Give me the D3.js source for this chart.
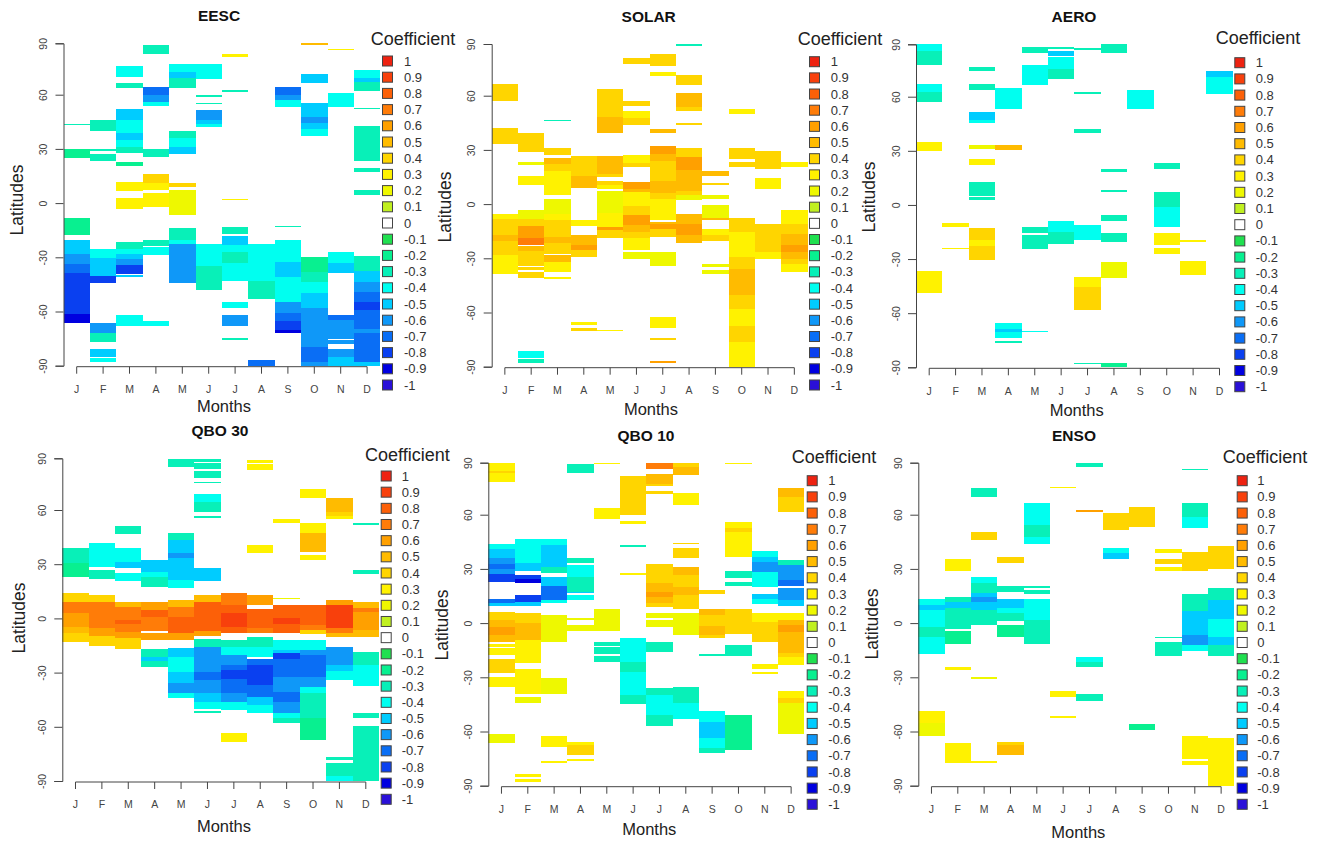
<!DOCTYPE html>
<html>
<head>
    <title>Regression coefficients</title>
    <meta charset="UTF-8">
    <style>
        body { margin: 0; background: #fff; }
        text { font-family: "Liberation Sans", Arial, sans-serif; }
        .axis path, .axis line { stroke: #444; fill: none; }
        .axis text { fill: #444; font-size: 10.5px; }
    </style>
</head>
<body>
<script src="https://cdn.jsdelivr.net/npm/d3@7"></script>
<script>

var monthLabels = ["J", "F", "M", "A", "M", "J", "J", "A", "S", "O", "N", "D"];
var latTicks = [-90, -60, -30, 0, 30, 60, 90];
var coefLevels = [1, .9, .8, .7, .6, .5, .4, .3, .2, .1, 0, -.1, -.2, -.3, -.4, -.5, -.6, -.7, -.8, -.9, -1];
var coefColors = ["#ee2211", "#f8400c", "#fc6008", "#ff7c08", "#ffa000", "#ffbb00", "#ffd500", "#fff200", "#eef800", "#c0f020", "#ffffff",
                  "#20e050", "#08f090", "#08f0b8", "#00fff0", "#00ccff", "#0f98f8", "#0a6ef5", "#0a40f0", "#0000e0", "#2a10d8"];

//Each cell: month index, upper latitude, lower latitude, coefficient.
var eescCells = [
    [0,44,43,-.3],[0,30,25,-.2],[0,-8.5,-17.5,-.2],[0,-20.5,-28,-.5],[0,-28,-33.5,-.6],[0,-33.5,-38.5,-.7],[0,-38.5,-61.5,-.8],[0,-61.5,-66.5,-.9],
    [1,46,40,-.3],[1,30,29,-.3],[1,27,23.5,-.3],[1,-25.5,-30.5,-.4],[1,-30.5,-34,-.5],[1,-34,-40.5,-.5],[1,-40.5,-44,-.8],[1,-66.5,-72,-.6],[1,-72,-77,-.3],[1,-81,-85,-.5],[1,-86,-88,-.4],
    [2,77,70.5,-.4],[2,67,64,-.3],[2,52,46,-.5],[2,46,38.6,-.4],[2,38.6,35,-.5],[2,35,31,-.4],[2,31,28,-.3],[2,22.5,20.5,-.2],[2,11.8,6.6,.3],[2,3,-3,.3],[2,-21.5,-25.5,-.3],[2,-25.5,-28,-.4],[2,-28,-31,-.5],[2,-31,-34,-.6],[2,-34,-39.5,-.8],[2,-40,-41,-.5],[2,-62,-68,-.4],
    [3,89,84,-.3],[3,64.5,60,-.7],[3,60,56,-.6],[3,56,54,-.4],[3,30,25.5,-.3],[3,16,11,.4],[3,11,7,.3],[3,5.7,-2.4,.3],[3,-20.5,-23.5,-.3],[3,-24.5,-29,-.4],[3,-65.5,-68,-.4],
    [4,78,73,-.4],[4,73,69.5,-.5],[4,69.5,63.7,-.3],[4,40,36,-.3],[4,36,31,-.4],[4,31,27,-.5],[4,11,9,.4],[4,7,-6.6,.2],[4,-14,-20.5,-.3],[4,-20.5,-22.5,-.4],[4,-22.5,-44,-.6],
    [5,78,69,-.4],[5,60,58.8,-.3],[5,55.5,54.8,-.3],[5,51.5,46,-.6],[5,46,43.7,-.5],[5,43.7,42,-.4],[5,-22.5,-35,-.4],[5,-35,-48,-.3],
    [6,84,82,.3],[6,62.5,61.8,-.3],[6,2.4,1.6,.3],[6,-13,-17,-.3],[6,-18,-23,-.5],[6,-23,-27,-.4],[6,-27,-33,-.3],[6,-33,-43,-.4],[6,-55,-58,-.4],[6,-62,-68,-.6],[6,-74.5,-75.5,-.3],
    [7,-22.5,-43,-.4],[7,-43,-53,-.3],[7,-87,-90,-.7],
    [8,64.5,60,-.7],[8,60,57,-.6],[8,57,53,-.4],[8,-12.5,-13.4,-.3],[8,-20.5,-32.5,-.4],[8,-32.5,-41,-.5],[8,-41,-54.5,-.4],[8,-54.5,-61,-.6],[8,-61,-65.5,-.7],[8,-65.5,-70,-.8],[8,-70,-72,-.9],
    [9,90,89,.5],[9,72,67,-.5],[9,55.5,47.5,-.5],[9,47.5,44.5,-.6],[9,44.5,41,-.5],[9,41,37,-.4],[9,-30,-38,-.2],[9,-38,-43.5,-.3],[9,-43.5,-50,-.4],[9,-50,-58,-.5],[9,-58,-79.5,-.6],[9,-79.5,-88,-.7],[9,-88,-90,-.6],
    [10,86.5,86,.3],[10,61,53,-.4],[10,-27,-33,-.4],[10,-33,-38.5,-.5],[10,-62,-64.5,-.7],[10,-64.5,-75,-.6],[10,-76,-78,-.6],[10,-80.5,-85,-.6],[10,-85,-90,-.5],
    [11,74.5,69.5,-.4],[11,69.5,67.6,-.5],[11,67.6,62,-.3],[11,52.5,52,-.3],[11,42.6,23.5,-.3],[11,19.5,17,-.3],[11,7.5,4.6,-.3],[11,-29.5,-37.5,-.3],[11,-37.5,-43.5,-.5],[11,-43.5,-49,-.6],[11,-49,-54.5,-.7],[11,-54.5,-59,-.8],[11,-59,-69.5,-.7],[11,-69.5,-72,-.6],[11,-72,-88,-.7],[11,-88,-90,-.5]
];

var solarCells = [
    [0,67,57,.4],[0,42,33,.4],[0,-5.3,-8,.3],[0,-8,-17.3,.4],[0,-17.3,-20.4,.5],[0,-20.4,-28.4,.4],[0,-28.4,-38.5,.3],
    [1,39.4,28.7,.4],[1,23.4,21.5,.2],[1,15.7,10.7,.3],[1,-3.5,-8,.2],[1,-8,-12.3,.4],[1,-12.3,-19,.6],[1,-19,-22.5,.7],[1,-23.4,-26,.5],[1,-26,-34,.4],[1,-35,-36.6,.4],[1,-37.6,-41,.4],[1,-81.5,-85,-.4],[1,-86,-88.2,-.3],
    [2,46.3,45.8,-.3],[2,31.3,27.4,.4],[2,25.4,22.3,.5],[2,22.3,18.2,.4],[2,18.2,5.3,.3],[2,3,-5.7,.2],[2,-5.7,-9,.3],[2,-9,-18.2,.4],[2,-18.2,-21.5,.5],[2,-21.5,-27.4,.4],[2,-28.4,-32,.5],[2,-32,-37.6,.3],[2,-40.3,-41.2,.3],
    [3,26.5,15.8,.4],[3,15.8,8.8,.5],[3,-9,-12,.3],[3,-17.3,-22.8,.5],[3,-22.8,-25.6,.6],[3,-25.6,-29.3,.4],[3,-65.4,-66.7,.3],[3,-68.5,-70.3,.4],
    [4,63.9,48.4,.4],[4,48.4,39.4,.5],[4,26.5,16.8,.5],[4,16.8,15,.4],[4,13,10.3,.4],[4,10.3,8.5,.3],[4,7.2,-5,.2],[4,-5,-12.7,.3],[4,-12.7,-14.5,.6],[4,-14.5,-19,.4],[4,-69.5,-70,.3],
    [5,81.6,78.5,.4],[5,57,54.3,.4],[5,51.5,47.5,.3],[5,47.5,44,.4],[5,27.4,22.8,.3],[5,22.8,20.4,.4],[5,12.5,8.5,.6],[5,8.5,6.6,.5],[5,6.6,-1.3,.3],[5,-1.3,-6.3,.4],[5,-6.3,-11.8,.6],[5,-11.8,-15.5,.5],[5,-15.5,-19,.4],[5,-19,-25.6,.3],[5,-26.5,-30.2,.2],
    [6,84,77,.4],[6,73.8,71.5,.3],[6,41.6,39.4,.5],[6,32.4,27.8,.6],[6,27.8,24.1,.5],[6,24.1,13,.4],[6,13,6,.5],[6,6,3,.4],[6,3,-9,.3],[6,-10,-11,.5],[6,-11,-13.6,.6],[6,-13.6,-18.2,.4],[6,-26.5,-34.3,.2],[6,-62.4,-68.7,.3],[6,-74,-75.3,.4],[6,-87,-88.2,.6],
    [7,90,89,-.3],[7,72,66,.4],[7,61.4,54,.5],[7,54,51.5,.4],[7,44.8,43.7,.4],[7,31,26,.4],[7,26,18.6,.6],[7,18.6,7.5,.5],[7,7.5,4.8,.4],[7,4.8,2,.2],[7,-5.7,-11.2,.5],[7,-11.2,-17.3,.6],[7,-17.3,-21.5,.5],
    [8,18.2,15.5,.5],[8,11.8,10.3,.4],[8,5.3,3,.2],[8,-.5,-7.5,.2],[8,-7.5,-8.6,.5],[8,-13.6,-17.3,.3],[8,-17.3,-20.4,.4],[8,-33.3,-34.8,.2],[8,-36.6,-38.9,.2],
    [9,52.4,49.8,.3],[9,31,25,.4],[9,23.2,20.4,.4],[9,-7.5,-15.5,.4],[9,-15.5,-29.3,.3],[9,-29.3,-35.7,.4],[9,-35.7,-50.5,.5],[9,-50.5,-57.8,.4],[9,-57.8,-67.6,.3],[9,-67.6,-76.2,.4],[9,-76.2,-90,.3],
    [10,29.6,19.5,.4],[10,14.5,8.5,.3],[10,-10.9,-26.5,.4],[10,-26.5,-30.6,.3],
    [11,23.4,20.4,.3],[11,-3.5,-10.9,.3],[11,-10.9,-16.4,.4],[11,-16.4,-22.8,.5],[11,-22.8,-26.5,.6],[11,-26.5,-30.2,.5],[11,-30.2,-33.3,.4],[11,-33.3,-37.6,.3]
];

var aeroCells = [
    [0,90,86,-.4],[0,86,78,-.3],[0,67,62.5,-.4],[0,62.5,57,-.3],[0,35,29.7,.3],[0,-36.6,-48.6,.3],
    [1,-10,-12.3,.3],[1,-23.8,-24.7,.3],
    [2,77,75,-.3],[2,67,64,-.3],[2,51.3,47,-.5],[2,47,45.5,-.4],[2,33,31,.2],[2,25.4,22,.3],[2,12.5,5,-.3],[2,4.2,3,-.3],[2,-12.7,-19.3,.4],[2,-19.3,-22.5,.3],[2,-22.5,-30.4,.4],
    [3,64.8,53.3,-.4],[3,33,30.5,.5],[3,-65.4,-68.5,-.4],[3,-68.5,-70.4,-.5],[3,-70.4,-73.5,-.4],[3,-75.3,-76.4,-.3],
    [4,88.7,84.9,-.3],[4,78,66.7,-.4],[4,-12,-15.5,-.3],[4,-16.4,-24.7,-.3],[4,-69.8,-70.4,-.4],
    [5,88.7,87.4,-.3],[5,86.4,83.5,-.5],[5,82.6,76,-.4],[5,76,70,-.3],[5,-9,-15,-.4],[5,-15,-21.5,-.3],
    [6,87.7,86.8,-.3],[6,62.7,61.7,-.3],[6,42,39.8,-.3],[6,-10.9,-19.3,-.4],[6,-40,-45.6,.3],[6,-45.6,-58.5,.4],[6,-87.5,-88.4,-.3],
    [7,90,85,-.3],[7,20,18.3,-.3],[7,8.3,7.2,-.3],[7,-5.7,-8.7,-.3],[7,-15.6,-20.6,-.3],[7,-31.7,-40.7,.2],[7,-87.5,-90,-.2],
    [8,64,53,-.4],
    [9,23.2,20,-.3],[9,7.4,-1.3,-.3],[9,-1.3,-12,-.4],[9,-15.5,-22,.3],[9,-23.8,-27.4,.3],
    [10,-19.3,-20.3,.3],[10,-30.8,-38.7,.3],
    [11,75,71.5,-.5],[11,71.5,61.5,-.4]
];

var qbo30Cells = [
    [0,38.7,30.4,-.3],[0,30.4,23,-.2],[0,13.8,9.2,.4],[0,9.2,2.8,.7],[0,2.8,-4.6,.6],[0,-4.6,-8.3,.5],[0,-8.3,-13,.4],
    [1,41.5,28.6,-.4],[1,26.8,22,-.3],[1,13,9.2,.4],[1,9.2,1.8,.7],[1,1.8,-5.5,.7],[1,-5.5,-10,.6],[1,-10,-15.3,.4],
    [2,51,46.5,-.3],[2,38.7,31.4,-.4],[2,31.4,27.7,-.5],[2,25.3,20.7,-.4],[2,9.2,6.5,.5],[2,6.5,-1,.7],[2,-1,-3.3,.8],[2,-3.3,-7.4,.7],[2,-7.4,-11,.6],[2,-11,-17.2,.4],
    [3,32.3,25.8,-.5],[3,25.8,23,-.4],[3,23,17.5,-.3],[3,9.2,4.6,.6],[3,4.6,1,.8],[3,1,-6.8,.7],[3,-8.3,-12,.6],[3,-17.2,-21.2,-.3],[3,-21.2,-23.4,-.5],[3,-23.4,-27,-.3],
    [4,89.4,85,-.3],[4,47.5,43.4,-.3],[4,43.4,36,-.5],[4,36,33.2,-.6],[4,33.2,21.2,-.5],[4,21.2,17,-.4],[4,10,6.5,.5],[4,6.5,1,.7],[4,1,-8.3,.8],[4,-8.3,-12,.6],[4,-16.6,-21.6,-.5],[4,-21.6,-29.5,-.4],[4,-29.5,-36,-.5],[4,-36,-41.5,-.6],[4,-41.5,-44,-.4],
    [5,89.4,88,-.3],[5,87,84,-.3],[5,82.6,78.4,-.3],[5,76.4,75.7,-.3],[5,69.3,64.8,-.4],[5,64.8,59,-.3],[5,56.6,55.7,-.3],[5,27.7,20.7,-.5],[5,13,9.2,.5],[5,9.2,-6.8,.8],[5,-6.8,-9.8,.6],[5,-11.6,-15.7,-.3],[5,-15.7,-29.5,-.6],[5,-29.5,-34.1,-.7],[5,-34.1,-41.5,-.6],[5,-41.5,-46,-.5],[5,-46,-50.4,-.4],[5,-51,-52.6,-.3],
    [6,13.8,7.4,.7],[6,7.4,2.8,.8],[6,2.8,-5,.9],[6,-5,-8.3,.8],[6,-12,-15.7,-.3],[6,-15.7,-20.3,-.4],[6,-20.3,-25.8,-.6],[6,-25.8,-28.6,-.7],[6,-28.6,-33.8,-.8],[6,-33.8,-41.5,-.7],[6,-41.5,-46,-.6],[6,-46,-50.7,-.4],[6,-63.3,-68.6,.3],
    [7,88.9,87.3,.3],[7,86.6,83.5,.3],[7,40.6,36,.3],[7,13,7.4,.6],[7,5,-5.5,.8],[7,-5.5,-8.3,.7],[7,-10.5,-15.7,-.3],[7,-15.7,-21.6,-.4],[7,-22.5,-25.8,-.7],[7,-25.8,-37,-.8],[7,-37,-43.4,-.7],[7,-43.4,-48,-.5],[7,-48,-52.6,-.4],
    [8,55,52.6,.3],[8,11.4,10.5,.2],[8,7.4,0,.8],[8,0,-3,.9],[8,-3,-8.3,.8],[8,-12,-17.5,-.4],[8,-17.5,-19.4,-.5],[8,-19.4,-22.7,-.8],[8,-22.7,-32.3,-.7],[8,-32.3,-40.6,-.6],[8,-40.6,-46.5,-.7],[8,-46.5,-52.6,-.6],[8,-52.6,-55.4,-.4],[8,-55.4,-58.1,-.3],
    [9,72,67,.3],[9,52.6,47,.3],[9,47,37,.5],[9,35,32.3,.3],[9,7.4,-3.7,.8],[9,-3.7,-6.5,.7],[9,-6.5,-8.9,.4],[9,-12,-17.5,-.4],[9,-17.5,-20.3,-.6],[9,-20.3,-32.3,-.7],[9,-32.3,-37.8,-.6],[9,-37.8,-41.5,-.4],[9,-41.5,-55.4,-.3],[9,-55.4,-67.3,-.2],
    [10,66.8,59,.5],[10,59,56.9,.4],[10,56.8,54.8,.3],[10,10,7.4,.6],[10,7.4,-5.5,.9],[10,-5.5,-8.3,.7],[10,-8.3,-10.5,.5],[10,-15.7,-25.8,-.6],[10,-25.8,-29,-.5],[10,-29,-34.1,-.4],[10,-76.6,-78.4,-.3],[10,-80.3,-87.3,-.3],[10,-87.3,-90,-.4],
    [11,52.6,51.5,-.3],[11,26.8,24.5,-.3],[11,9.2,5.5,.5],[11,5.5,3.7,.7],[11,3.7,-6.5,.6],[11,-6.5,-10.5,.5],[11,-18.5,-25.8,-.3],[11,-25.8,-37.3,-.4],[11,-52.6,-55,-.3],[11,-59.4,-90,-.3]
];

var qbo10Cells = [
    [0,90,85,.3],[0,85,84,.4],[0,84,79,.3],[0,43.7,40.8,-.4],[0,40.8,35.8,-.5],[0,35.8,32.7,-.6],[0,32.7,30,-.7],[0,30,27,-.6],[0,27,22.5,-.8],[0,13.6,11.3,-.7],[0,11.3,9.6,-.5],[0,6.3,1.7,.4],[0,1.7,-2.4,.5],[0,-2.4,-6.6,.6],[0,-6.6,-10.3,.5],[0,-11.3,-13.1,.3],[0,-14,-17.7,.3],[0,-19.6,-27.5,.4],[0,-30,-35.2,.3],[0,-61.4,-66.2,.2],
    [1,46.3,33,-.4],[1,33,29,-.5],[1,26.6,24.5,-.8],[1,24.5,22,-.9],[1,15.5,11.8,-.8],[1,11.8,9.6,-.5],[1,5.4,-.2,.4],[1,-.2,-9.4,.5],[1,-9.4,-22.3,.3],[1,-25.6,-39.3,.3],[1,-41,-44,.2],[1,-83.8,-85.4,.3],[1,-86.3,-88.2,.3],
    [2,46.3,43.2,-.4],[2,43.2,31,-.5],[2,31,27.5,-.3],[2,25.6,20.5,-.5],[2,20.5,12.7,-.7],[2,12.7,10.9,-.4],[2,4.4,-10.3,.2],[2,-30.3,-39.5,.2],[2,-62.5,-68.4,.3],[2,-76.2,-77.3,.3],
    [3,89,84,-.3],[3,36.3,33,-.3],[3,32,25.6,-.4],[3,25.6,17.3,-.3],[3,17.3,16.4,-.5],[3,15.5,12.7,-.4],[3,2.6,1.7,.2],[3,-1.1,-4.2,.2],[3,-65.7,-67.5,.3],[3,-67.5,-73,.4],[3,-75.3,-76.2,.3],
    [4,90,89,.3],[4,63.7,57.7,.3],[4,7.6,-4.2,.2],[4,-10.5,-12.5,-.3],[4,-13.5,-17.2,-.3],[4,-18.3,-21.4,-.3],
    [5,82.6,59.6,.4],[5,56.5,54.8,.3],[5,43.5,41.9,-.3],[5,27.5,26.8,.3],[5,-8.5,-21.4,-.4],[5,-21.4,-27,-.3],[5,-27,-39.9,-.4],[5,-39.9,-45,-.3],
    [6,90,86.6,.7],[6,83.2,78,.5],[6,78,76.4,.4],[6,73.4,72,.4],[6,32.5,22,.4],[6,22,17.3,.5],[6,17.3,14.6,.6],[6,14.6,11.3,.5],[6,11.3,8.7,.4],[6,5.4,2.6,.2],[6,1.7,-2.4,.2],[6,-10.7,-16.2,-.3],[6,-35.8,-39.9,-.3],[6,-39.9,-51,-.4],[6,-51,-57,-.3],
    [7,90,87.5,.4],[7,87.5,83,.5],[7,72.5,65.7,.3],[7,44.6,43.7,.4],[7,41.5,35.8,.4],[7,31.2,26.6,.5],[7,26.6,20,.4],[7,20,15.5,.5],[7,15.5,7.6,.4],[7,5.4,-6.6,.2],[7,-35.2,-44.5,-.3],[7,-44.5,-53.3,-.4],
    [8,18.3,15.9,.4],[8,7.6,4.4,.5],[8,4.4,-1.7,.4],[8,-1.7,-6.6,.5],[8,-6.6,-8.5,.4],[8,-17.3,-18.3,-.3],[8,-48.7,-54.6,-.4],[8,-54.6,-63.5,-.5],[8,-63.5,-69.4,-.4],[8,-69.4,-72.1,-.3],
    [9,90,89,.3],[9,55.7,52.5,.3],[9,52.5,50.6,.4],[9,50.6,36.7,.3],[9,28.8,24.7,-.3],[9,22.9,20.7,-.3],[9,7.6,-6,.4],[9,-12.2,-18.3,-.3],[9,-50.6,-70.3,-.2],
    [10,39.9,36.7,-.4],[10,36.7,34,-.5],[10,34,28.4,-.6],[10,28.4,20,-.4],[10,16,13.1,-.5],[10,13.1,10.5,-.4],[10,5.4,.7,.3],[10,.7,-10.3,.4],[10,-22.7,-25.6,.3],[10,-27,-28.2,.3],
    [11,75.4,70.5,.5],[11,70.5,61.7,.4],[11,35.2,32.1,-.3],[11,32.1,23.8,-.6],[11,23.8,20.5,-.7],[11,19.2,12.7,-.6],[11,12.7,9.6,-.5],[11,5.4,1.7,.3],[11,1.7,-1.1,.5],[11,-1.1,-4.8,.6],[11,-4.8,-16.8,.5],[11,-16.8,-19,.4],[11,-19,-23.2,.3],[11,-37.6,-41.7,.3],[11,-41.7,-44,.4],[11,-44,-61.4,.2]
];

var ensoCells = [
    [0,13.6,10,-.4],[0,10,7.2,-.5],[0,7.2,-2,-.4],[0,-2,-7.6,-.3],[0,-7.6,-17.2,-.4],[0,-48.5,-55.5,.3],[0,-55.5,-62.4,.2],
    [1,35.4,29,.3],[1,14.6,11.8,-.3],[1,11.8,8.1,-.5],[1,8.1,-3.5,-.3],[1,-4.4,-11.3,-.2],[1,-24.5,-26,.3],[1,-66.2,-77.3,.3],
    [2,75.6,70,-.3],[2,50.6,46,.4],[2,25.6,22,-.4],[2,22,16.4,-.3],[2,16.4,14.6,-.5],[2,14.6,11.8,-.6],[2,11.8,7.2,-.5],[2,7.2,-1.1,-.3],[2,-30,-31.2,.2],[2,-76.2,-77.3,.3],
    [3,36.7,33.4,.4],[3,20.5,17.3,-.3],[3,13.1,8.1,-.5],[3,8.1,5.7,-.4],[3,5.7,.9,-.3],[3,-1.1,-7.6,-.2],[3,-65.7,-67.5,.4],[3,-67.5,-73,.5],
    [4,66.8,54.2,-.4],[4,54.2,47.8,-.3],[4,47.8,44,-.4],[4,20.5,19.6,-.3],[4,18.3,15.9,-.3],[4,13.6,1.7,-.4],[4,1.7,-11.3,-.3],
    [5,76,75.4,.3],[5,-37.5,-41,.3],[5,-51.5,-52.4,.3],
    [6,90,87.5,-.3],[6,62.7,61.7,.6],[6,-18.6,-21.4,-.4],[6,-21.4,-24.5,-.3],[6,-39.5,-43.2,-.3],
    [7,61,51.5,.4],[7,41.7,38.6,-.4],[7,38.6,35.4,-.5],
    [8,64.7,53,.4],[8,-56,-59.2,-.2],
    [9,40.8,38.6,.3],[9,35.4,32.5,.4],[9,31.2,29,.3],[9,-7.6,-8.5,-.3],[9,-10.3,-18.3,-.3],
    [10,86.5,86,-.3],[10,66.8,59,-.3],[10,59,52.8,-.4],[10,39.5,29,.4],[10,15.9,6.6,-.3],[10,6.6,-6.6,-.5],[10,-6.6,-12.2,-.6],[10,-12.2,-15.3,-.4],[10,-62.4,-75,.3],[10,-76.2,-78.6,.3],
    [11,42.6,30,.4],[11,19.6,12.7,-.3],[11,12.7,2,-.5],[11,2,-7.6,-.4],[11,-7.6,-12.2,-.5],[11,-12.2,-18.3,-.3],[11,-63.8,-90,.3]
];

var svg = d3.select("body").append("svg")
            .attr("width", 1322)
            .attr("height", 843);

var colorOf = d3.scaleOrdinal().domain(coefLevels).range(coefColors);

//Draws one heat map with its axes and its legend.
function makePanel(title, cells, p) {

    var x = d3.scaleBand().domain(d3.range(monthLabels.length)).range([p.left, p.right]);
    //The image's 90 tick sits a little closer to 60 than the other ticks do to each other.
    var y = d3.scaleLinear().domain([-90, 60, 90]).range([p.bottom, p.lat60, p.top]);

    svg.append("g").selectAll("rect")
       .data(cells)
       .join("rect")
         .attr("x", function(d) { return x(d[0]); })
         .attr("y", function(d) { return y(d[1]); })
         .attr("width", x.bandwidth())
         .attr("height", function(d) { return Math.max(1, y(d[2]) - y(d[1])); })
         .attr("fill", function(d) { return colorOf(d[3]); })
         .attr("shape-rendering", "crispEdges");

    //X axis: like R, the line only runs from the first tick to the last.
    var xAxis = svg.append("g")
        .attr("class", "axis")
        .attr("transform", "translate(0," + (p.bottom + 1) + ")")
        .call(d3.axisBottom(x).tickSizeOuter(0).tickSize(7).tickPadding(12)
                .tickFormat(function(i) { return monthLabels[i]; }));
    var halfBand = x.bandwidth() / 2;
    xAxis.select(".domain").attr("d", "M" + (x(0) + halfBand) + ",0H" + (x(11) + halfBand));

    //Y axis with rotated labels. Plain format so the minus stays a hyphen.
    var yAxis = svg.append("g")
        .attr("class", "axis")
        .attr("transform", "translate(" + p.left + ",0)")
        .call(d3.axisLeft(y).tickValues(latTicks).tickSizeOuter(0).tickSize(8)
                .tickFormat(function(d) { return String(d); }));
    yAxis.selectAll("text")
         .attr("x", 0)
         .attr("dy", "0.35em")
         .attr("text-anchor", "middle")
         .attr("transform", "translate(-20,0) rotate(-90)");

    svg.append("text")
       .attr("x", p.titleX).attr("y", p.titleY)
       .attr("text-anchor", "middle")
       .attr("font-size", 15.5).attr("font-weight", "bold").attr("fill", "#111")
       .text(title);
    svg.append("text")
       .attr("x", p.monthsX).attr("y", p.monthsY)
       .attr("text-anchor", "middle")
       .attr("font-size", 16.5).attr("fill", "#222")
       .text("Months");
    svg.append("text")
       .attr("transform", "translate(" + p.latX + "," + p.latY + ") rotate(-90)")
       .attr("text-anchor", "middle")
       .attr("font-size", 17.5).attr("fill", "#222")
       .text("Latitudes");
    svg.append("text")
       .attr("x", p.coefX).attr("y", p.coefY)
       .attr("text-anchor", "middle")
       .attr("font-size", 18).attr("fill", "#222")
       .text("Coefficient");

    //Legend rows share the same palette as the cells.
    var rowY = d3.scalePoint().domain(coefLevels).range([p.legendTop, p.legendBottom]);
    var rows = svg.append("g").selectAll("g")
        .data(coefLevels)
        .join("g")
          .attr("transform", function(d) { return "translate(" + p.legendX + "," + rowY(d) + ")"; });
    rows.append("rect")
        .attr("x", 0.5).attr("y", -5)
        .attr("width", 10).attr("height", 10)
        .attr("fill", function(d) { return colorOf(d); })
        .attr("stroke", "#444");
    rows.append("text")
        .attr("x", p.legendTextX - p.legendX)
        .attr("dy", "0.35em")
        .attr("font-size", 13).attr("fill", "#333")
        .text(function(d) { return d; });
}

makePanel("EESC", eescCells, {left: 63.5, right: 380.3, top: 43.3, lat60: 94.7, bottom: 365.7,
    titleX: 219, titleY: 20.5, monthsX: 224, monthsY: 412, latX: 23, latY: 200, coefX: 413, coefY: 44.5,
    legendX: 382, legendTop: 61, legendBottom: 385, legendTextX: 404});
makePanel("SOLAR", solarCells, {left: 491.7, right: 807.5, top: 44, lat60: 95.7, bottom: 366.7,
    titleX: 648.7, titleY: 21.5, monthsX: 651, monthsY: 415, latX: 451, latY: 207, coefX: 840, coefY: 44.5,
    legendX: 809, legendTop: 61.7, legendBottom: 385, legendTextX: 830.7});
makePanel("AERO", aeroCells, {left: 916, right: 1232.7, top: 44.3, lat60: 96.7, bottom: 367.3,
    titleX: 1074, titleY: 22, monthsX: 1076.7, monthsY: 416, latX: 875, latY: 197, coefX: 1258, coefY: 43.5,
    legendX: 1234.3, legendTop: 62.7, legendBottom: 386.7, legendTextX: 1255.7});
makePanel("QBO 30", qbo30Cells, {left: 62.3, right: 379, top: 458.3, lat60: 510, bottom: 781,
    titleX: 220, titleY: 436, monthsX: 224, monthsY: 832, latX: 25, latY: 618, coefX: 407.3, coefY: 460.5,
    legendX: 380.7, legendTop: 476, legendBottom: 799.3, legendTextX: 401.7});
makePanel("QBO 10", qbo10Cells, {left: 488.3, right: 804.3, top: 462.7, lat60: 514.7, bottom: 785.7,
    titleX: 646, titleY: 440.5, monthsX: 649.3, monthsY: 835, latX: 448, latY: 625, coefX: 834, coefY: 462.5,
    legendX: 806.7, legendTop: 480.7, legendBottom: 804.3, legendTextX: 828.3});
makePanel("ENSO", ensoCells, {left: 918.3, right: 1234.3, top: 462.7, lat60: 514.7, bottom: 785.7,
    titleX: 1074, titleY: 440.5, monthsX: 1078.3, monthsY: 838, latX: 878, latY: 624, coefX: 1265, coefY: 462.5,
    legendX: 1236.7, legendTop: 480.7, legendBottom: 804.3, legendTextX: 1257.3});

</script>
</body>
</html>
